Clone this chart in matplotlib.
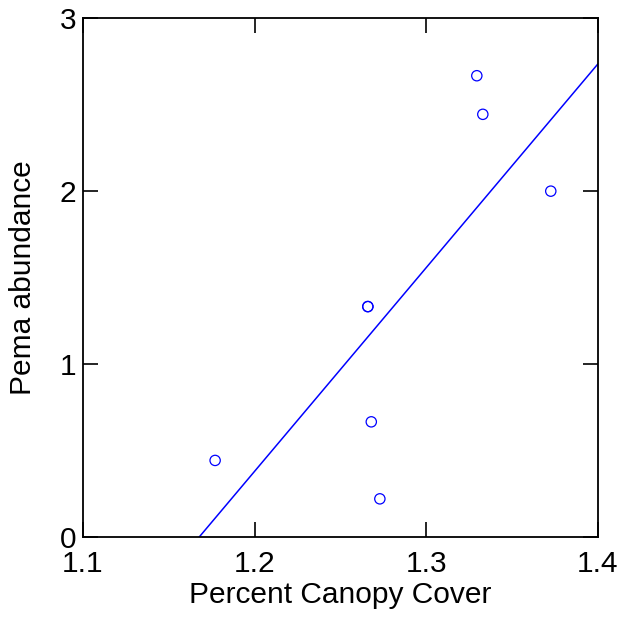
import numpy as np
import matplotlib
matplotlib.use('Agg')
from matplotlib import pyplot as plt

# canopy cover vs Pema abundance (two points overlap at 1.266, 1.333)
canopy = [1.177, 1.266, 1.266, 1.268, 1.273, 1.3295, 1.333, 1.3726]
abundance = [0.444, 1.333, 1.333, 0.667, 0.222, 2.667, 2.444, 2.0]
x_ticks = [1.1, 1.2, 1.3, 1.4]
y_ticks = [0, 1, 2, 3]

plt.rcParams['font.family'] = ['Liberation Sans', 'DejaVu Sans']

fig = plt.figure(figsize=(6.24, 6.24), dpi=100)
ax = fig.add_axes([0.133, 0.139, 0.825, 0.832])

ax.scatter(canopy, abundance, s=55, facecolors='none', edgecolors='#0000ff',
           linewidths=0.9, zorder=3)

# least-squares line across the visible x range
slope, icpt = np.polyfit(canopy, abundance, 1)
xs = np.array([1.1, 1.4])
ax.plot(xs, slope*xs + icpt, color='#0000ff', lw=1.1)

ax.set_xlim(1.1, 1.4)
ax.set_ylim(0, 3)
ax.set_xticks(x_ticks)
ax.set_yticks(y_ticks)
ax.set_xticklabels([f'{v:.1f}' for v in x_ticks])
ax.tick_params(direction='in', length=11, width=1.2, labelsize=21.5,
               top=True, right=True)
ax.tick_params(axis='x', pad=9.5)
ax.tick_params(axis='y', pad=5)
for sp in ax.spines.values():
    sp.set_linewidth(1.3)

ax.set_xlabel('Percent Canopy Cover', fontsize=21.5, labelpad=2)
ax.set_ylabel('Pema abundance', fontsize=21.5, labelpad=16)

fig.savefig('out.png', dpi=100)
